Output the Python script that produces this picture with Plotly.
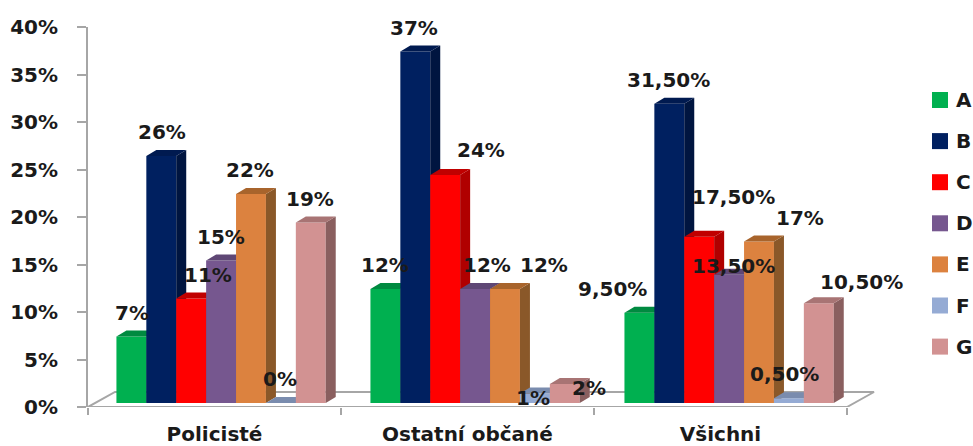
import plotly.graph_objects as go

categories = ["Policisté", "Ostatní občané", "Všichni"]
series_names = ["A", "B", "C", "D", "E", "F", "G"]
A = [7, 12, 9.5]
B = [26, 37, 31.5]
C = [11, 24, 17.5]
D = [15, 12, 13.5]
E = [22, 12, 17]
F = [0, 1, 0.5]
G = [19, 2, 10.5]
series_values = [A, B, C, D, E, F, G]
label_text = [
    ["7%", "12%", "9,50%"],
    ["26%", "37%", "31,50%"],
    ["11%", "24%", "17,50%"],
    ["15%", "12%", "13,50%"],
    ["22%", "12%", "17%"],
    ["0%", "1%", "0,50%"],
    ["19%", "2%", "10,50%"],
]
y_ticks = [0, 5, 10, 15, 20, 25, 30, 35, 40]

# style / layout
front = ["#00B050", "#002060", "#FF0000", "#76578F", "#DC823F", "#95ABD4", "#D29292"]
side = ["#007A38", "#001540", "#B00000", "#533D66", "#8A5829", "#6C7C9A", "#8A5F5F"]
top = ["#008A40", "#001A50", "#C00000", "#5F4775", "#A8642C", "#7A8CAE", "#A87474"]
label_dx = [
    [1, 0, -27], [1, -1, -1], [17, 36, 34], [0, 12, 4], [-1, 39, 41], [-1, -2, -4], [-1, 24, 43],
]
label_dy = [
    [24, 24, 24], [24, 24, 24], [24, 25, 40], [24, 24, 9], [24, 24, 24], [24, -4, 24], [24, -4, 21],
]
L, R, T, Bm = 88, 880, 27, 407  # plot area, in window pixels
UNIT = 253.0                    # px per category
XR = [-0.5, -0.5 + (R - L) / UNIT]
YR = [0, 40]
PX_Y = (Bm - T) / 40.0
W = 29.9 / UNIT
DX, DY = 10 / UNIT, 6 / PX_Y
FDX, FDY = 27 / UNIT, 15 / PX_Y
BASE = 4 / PX_Y
GROUP_CENTRES = [0.026, 1.03, 2.034]
GREY = "#A6A6A6"
FONT = "DejaVu Sans"
INK = "#1a1a1a"
KEY_LEFT, KEY_SIZE, KEY_TEXT_X, KEY_TOP_Y, KEY_STEP = 932, 16, 955, 100, 41.1


def paper_x(px):
    return (px - L) / (R - L)


def paper_y(py):
    return (Bm - py) / (Bm - T)


fig = go.Figure()

# floor, on the base axes
fig.add_trace(go.Scatter(
    x=[XR[0], XR[0] + FDX, 2.5 + FDX, 2.5, XR[0]],
    y=[0, FDY, FDY, 0, 0],
    mode="lines", fill="toself", fillcolor="white",
    line=dict(color=GREY, width=2), hoverinfo="skip", showlegend=False,
))

annotations = []
shapes = []
for i, (name, vals) in enumerate(zip(series_names, series_values)):
    n = i + 2
    xa, ya = f"x{n}", f"y{n}"
    xs = [c + (i - 3) * W for c in GROUP_CENTRES]
    fig.add_trace(go.Bar(
        x=xs, y=vals, base=BASE, width=W, name=name, xaxis=xa, yaxis=ya,
        marker=dict(color=front[i], line=dict(width=0)), showlegend=False,
    ))
    sx, sy, tx, ty = [], [], [], []
    for x, v in zip(xs, vals):
        l, r = x - W / 2, x + W / 2
        t = BASE + v
        sx += [r, r + DX, r + DX, r, r, None]
        sy += [BASE, BASE + DY, t + DY, t, BASE, None]
        tx += [l, l + DX, r + DX, r, l, None]
        ty += [t, t + DY, t + DY, t, t, None]
    for px, py, col in ((sx, sy, side[i]), (tx, ty, top[i])):
        fig.add_trace(go.Scatter(
            x=px, y=py, mode="lines", fill="toself", fillcolor=col,
            line=dict(width=0, color=col), hoverinfo="skip", showlegend=False,
            xaxis=xa, yaxis=ya,
        ))
    for j, (x, v) in enumerate(zip(xs, vals)):
        annotations.append(dict(
            x=x, y=BASE + v, xref="x", yref="y", text=label_text[i][j], showarrow=False,
            xshift=label_dx[i][j], yshift=label_dy[i][j],
            xanchor="center", yanchor="middle",
            font=dict(family=FONT, size=20, color=INK, weight="bold"),
        ))
    # key on the right
    key_y = KEY_TOP_Y + i * KEY_STEP
    shapes.append(dict(
        type="rect", xref="paper", yref="paper", layer="above",
        x0=paper_x(KEY_LEFT), x1=paper_x(KEY_LEFT + KEY_SIZE),
        y0=paper_y(key_y - KEY_SIZE / 2), y1=paper_y(key_y + KEY_SIZE / 2),
        fillcolor=front[i], line=dict(width=0),
    ))
    annotations.append(dict(
        x=paper_x(KEY_TEXT_X), y=paper_y(key_y), xref="paper", yref="paper",
        text=name, showarrow=False, xanchor="left", yanchor="middle", borderpad=0,
        font=dict(family=FONT, size=20, color=INK, weight="bold"),
    ))

axes = dict(
    xaxis=dict(
        range=XR, tickmode="array", tickvals=[0, 1, 2], ticktext=categories,
        ticks="", showgrid=False, zeroline=False, showline=False,
        tickfont=dict(family=FONT, size=20, color=INK, weight="bold"),
        minor=dict(tickmode="array", tickvals=[-0.5, 0.5, 1.5, 2.5], ticks="outside",
                   ticklen=7, tickwidth=2, tickcolor=GREY, showgrid=False),
        ticklabelstandoff=13,
    ),
    yaxis=dict(
        range=YR, tickmode="array", tickvals=y_ticks, ticktext=[f"{v}%" for v in y_ticks],
        ticks="outside", ticklen=9, tickwidth=2, tickcolor=GREY,
        showgrid=False, zeroline=False, showline=True, linecolor=GREY, linewidth=2,
        tickfont=dict(family=FONT, size=20, color=INK, weight="bold"),
        ticklabelstandoff=15,
    ),
)
for i in range(len(series_names)):
    n = i + 2
    axes[f"xaxis{n}"] = dict(range=XR, overlaying="x", visible=False, anchor=f"y{n}")
    axes[f"yaxis{n}"] = dict(range=YR, overlaying="y", visible=False, anchor=f"x{n}")

fig.update_layout(
    width=973, height=446,
    margin=dict(l=L, r=973 - R, t=T, b=446 - Bm, autoexpand=False),
    paper_bgcolor="white", plot_bgcolor="rgba(0,0,0,0)",
    barmode="overlay", annotations=annotations, shapes=shapes, showlegend=False,
    **axes,
)
fig.write_html(
    "out.html",
    config={"displayModeBar": False},
    post_script="document.body.style.margin='0';document.documentElement.style.overflow='hidden';",
)
